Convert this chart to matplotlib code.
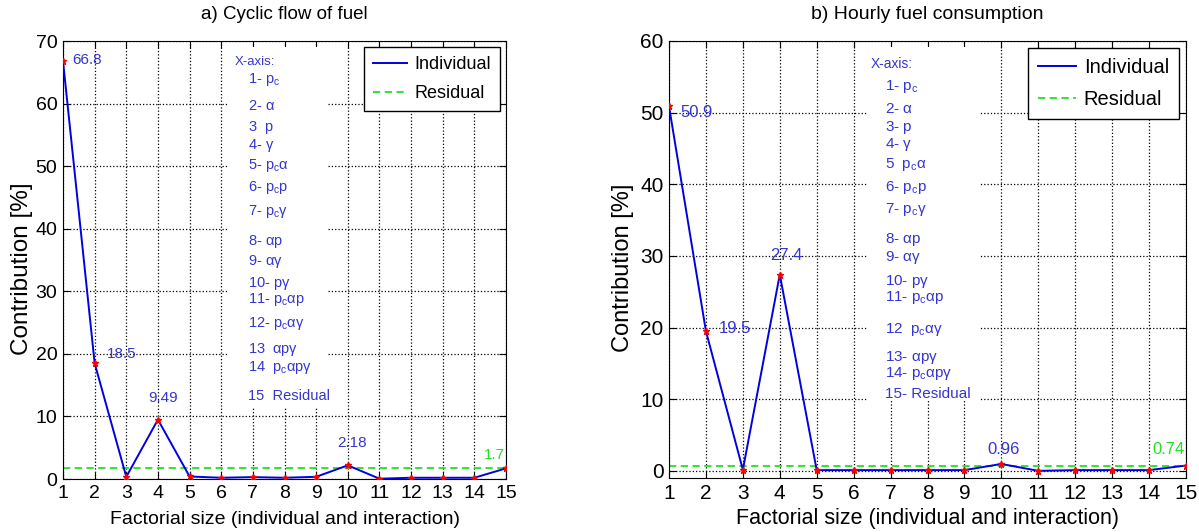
import numpy as np
import matplotlib.pyplot as plt
from matplotlib.patches import Rectangle

plt.rcParams['font.family'] = ['Liberation Sans', 'DejaVu Sans']
plt.rcParams['mathtext.fontset'] = 'custom'
plt.rcParams['mathtext.rm'] = 'Liberation Sans'
plt.rcParams['mathtext.it'] = 'Liberation Sans'

factors = np.arange(1, 16)

# a) cyclic flow of fuel
cyclic_vals = [66.8, 18.5, 0.35, 9.49, 0.4, 0.2, 0.3, 0.2, 0.35, 2.18, 0.05, 0.2, 0.2, 0.2, 1.7]
cyclic_residual = 1.7
cyclic_labels = {1: "66.8", 2: "18.5", 4: "9.49", 10: "2.18"}
cyclic_keys = ["X-axis:", "1- $p_c$", "2- $\\alpha$", "3  $p$", "4- $\\gamma$",
               "5- $p_c\\alpha$", "6- $p_cp$", "7- $p_c\\gamma$", "8- $\\alpha p$",
               "9- $\\alpha\\gamma$", "10- $p\\gamma$", "11- $p_c\\alpha p$",
               "12- $p_c\\alpha\\gamma$", "13  $\\alpha p\\gamma$",
               "14  $p_c\\alpha p\\gamma$", "15  Residual"]

# b) hourly fuel consumption
hourly_vals = [50.9, 19.5, 0.15, 27.4, 0.1, 0.1, 0.1, 0.1, 0.1, 0.96, 0.0, 0.1, 0.1, 0.1, 0.74]
hourly_residual = 0.74
hourly_labels = {1: "50.9", 2: "19.5", 4: "27.4", 10: "0.96"}
hourly_keys = ["X-axis:", "1- $p_c$", "2- $\\alpha$", "3- $p$", "4- $\\gamma$",
               "5  $p_c\\alpha$", "6- $p_cp$", "7- $p_c\\gamma$", "8- $\\alpha p$",
               "9- $\\alpha\\gamma$", "10- $p\\gamma$", "11- $p_c\\alpha p$",
               "12  $p_c\\alpha\\gamma$", "13- $\\alpha p\\gamma$",
               "14- $p_c\\alpha p\\gamma$", "15- Residual"]

TXT = '#3535d0'
GREEN = '#22e022'
W, H = 1199, 532

fig = plt.figure(figsize=(W / 100, H / 100), dpi=100)
ax1 = fig.add_axes([63 / W, 1 - 479 / H, (506 - 63) / W, (479 - 41) / H])
ax2 = fig.add_axes([669 / W, 1 - 478 / H, (1186 - 669) / W, (478 - 41) / H])


def draw(ax, vals, resid, labels, keys, title, ylim, fs, layout):
    ax.plot(factors, vals, color='#0000e0', lw=1.4, label='Individual', zorder=3)
    ax.plot(factors, vals, ls='none', marker='*', ms=5, color='red', zorder=4)
    ax.axhline(resid, color=GREEN, ls='--', lw=1.3, dashes=(4, 2.5), label='Residual', zorder=2)
    ax.set_xlim(1, 15)
    ax.set_ylim(*ylim)
    ax.set_xticks(factors)
    ax.set_yticks(np.arange(0, ylim[1] + 1, 10))
    ax.grid(True, color='black', ls=':', lw=0.9)
    ax.tick_params(direction='in', top=True, right=True, labelsize=fs['tick'], length=5, pad=4)
    ax.set_title(title, fontsize=fs['title'], pad=16)
    ax.set_xlabel('Factorial size (individual and interaction)', fontsize=fs['xlabel'],
                  labelpad=layout['xpad'])
    ax.set_ylabel('Contribution [%]', fontsize=fs['ylabel'])
    ax.yaxis.set_label_coords(layout['ylabel_x'], 0.48)

    # data labels
    for k, lab in labels.items():
        dx, dy, ha = layout['offsets'][k]
        ax.text(k + dx, vals[k - 1] + dy, lab, color=TXT, fontsize=fs['label'], ha=ha, va='center')
    ax.text(15 - 0.05, resid + layout['resid_dy'], f"{resid:g}", color=GREEN,
            fontsize=fs['label'], ha='right', va='center')

    # white block behind the x-axis key
    bx0, bx1, by0 = layout['box']
    ax.add_patch(Rectangle((bx0, by0), bx1 - bx0, 1 - 6 / 438 - by0, transform=ax.transAxes,
                           facecolor='white', edgecolor='none', zorder=1.8))
    top, bottom = layout['ypix']
    for i, (s, y) in enumerate(zip(keys, layout['rows'])):
        x = layout['key_x'][0] if i == 0 else layout['key_x'][1]
        ax.text(x, (bottom - y) / (bottom - top), s, transform=ax.transAxes, color=TXT,
                fontsize=fs['key'] * (0.9 if i == 0 else 1), ha='left', va='center', zorder=5)

    leg = ax.legend(loc='upper right', fontsize=fs['legend'], fancybox=False, framealpha=1,
                    edgecolor='black', borderpad=0.5, handlelength=1.85, handletextpad=0.4,
                    labelspacing=0.65, borderaxespad=0.35)
    leg.get_frame().set_linewidth(1.0)
    leg.set_zorder(6)


draw(ax1, cyclic_vals, cyclic_residual, cyclic_labels, cyclic_keys,
     'a) Cyclic flow of fuel', (0, 70),
     dict(tick=14, title=13.5, xlabel=14, ylabel=17.5, label=11, key=10.5, legend=13),
     dict(offsets={1: (0.3, 0.2, 'left'), 2: (0.38, 1.5, 'left'),
                   4: (0.17, 3.5, 'center'), 10: (0.15, 3.6, 'center')},
          resid_dy=2.2, box=(0.375, 0.596, 0.162), key_x=(0.388, 0.418),
          ypix=(41, 479), ylabel_x=-0.068, xpad=7,
          rows=[62, 80, 106, 127, 145, 165, 187, 212, 241, 261, 283, 300, 323, 350, 367, 396]))
draw(ax2, hourly_vals, hourly_residual, hourly_labels, hourly_keys,
     'b) Hourly fuel consumption', (-1, 60),
     dict(tick=15, title=14, xlabel=15.5, ylabel=17, label=12, key=11, legend=14.5),
     dict(offsets={1: (0.32, -0.9, 'left'), 2: (0.35, 0.3, 'left'),
                   4: (0.18, 2.6, 'center'), 10: (0.07, 2.0, 'center')},
          resid_dy=2.3, box=(0.385, 0.60, 0.176), key_x=(0.39, 0.418),
          ypix=(41, 478), ylabel_x=-0.068, xpad=4,
          rows=[64, 86, 109, 127, 144, 164, 187, 209, 239, 257, 281, 297, 329, 358, 374, 394]))

fig.savefig('out.png', dpi=100)
